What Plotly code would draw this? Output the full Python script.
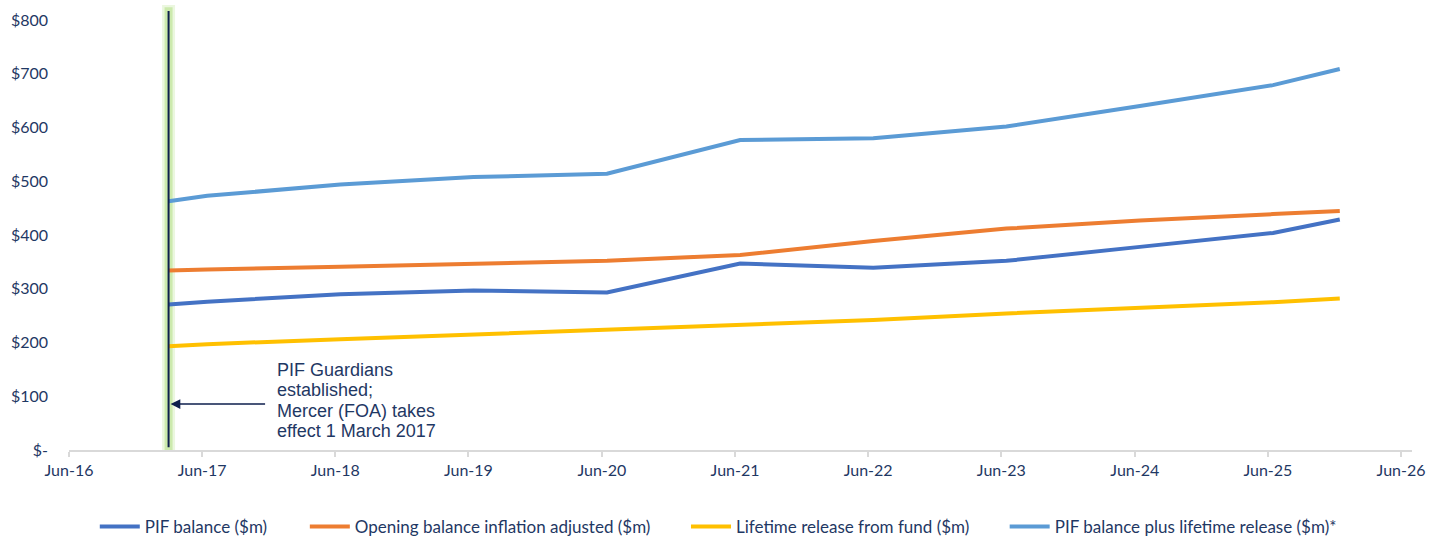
import plotly.graph_objects as go

# ---- data ----
dates = ['2017-03-01', '2017-06-15', '2018-06-15', '2019-06-15', '2020-06-15',
         '2021-06-15', '2022-06-15', '2023-06-15', '2024-06-15', '2025-06-15',
         '2025-12-15']
pif_balance = [271, 276, 290, 297, 293, 347, 339, 352, 378, 404, 429]
opening_inflation_adj = [334, 336, 341, 347, 352, 363, 389, 412, 427, 439, 445]
lifetime_release = [193, 197, 206, 215, 223, 233, 242, 254, 264, 275, 282]
pif_plus_release = [463, 473, 494, 508, 514, 577, 580, 602, 640, 679, 709]

tick_dates = ['2016-06-01', '2017-06-01', '2018-06-01', '2019-06-01', '2020-06-01',
              '2021-06-01', '2022-06-01', '2023-06-01', '2024-06-01', '2025-06-01',
              '2026-06-01']
tick_labels = ['Jun-16', 'Jun-17', 'Jun-18', 'Jun-19', 'Jun-20', 'Jun-21',
               'Jun-22', 'Jun-23', 'Jun-24', 'Jun-25', 'Jun-26']
y_ticks = [0, 100, 200, 300, 400, 500, 600, 700, 800]
y_labels = ['$-', '$100', '$200', '$300', '$400', '$500', '$600', '$700', '$800']

event_date = '2017-03-01'
event_lines = ['PIF Guardians', 'established;', 'Mercer (FOA) takes', 'effect 1 March 2017']
event_line_y = [148.0, 110.8, 72.5, 34.5]

series = [
    ('PIF balance ($m)', pif_balance, '#4472C4', 'legend'),
    ('Opening balance inflation adjusted ($m)', opening_inflation_adj, '#ED7D31', 'legend2'),
    ('Lifetime release from fund ($m)', lifetime_release, '#FFC000', 'legend3'),
    ('PIF balance plus lifetime release ($m)*', pif_plus_release, '#5B9BD5', 'legend4'),
]
legend_x = [0.0192, 0.1756, 0.4594, 0.6967]

NAVY = '#1F3864'
LINE_NAVY = '#0E1F4D'

fig = go.Figure()
for name, vals, color, lg in series:
    fig.add_trace(go.Scatter(x=dates, y=vals, mode='lines', name=name,
                             line=dict(color=color, width=4), legend=lg))

# event marker line with soft green glow
fig.add_shape(type='line', xref='x', yref='y', x0=event_date, x1=event_date,
              y0=-20, y1=828, line=dict(color='rgba(146,208,80,0.18)', width=13), layer='below')
fig.add_shape(type='line', xref='x', yref='y', x0=event_date, x1=event_date,
              y0=-20, y1=824, line=dict(color='rgba(146,208,80,0.35)', width=8), layer='below')
fig.add_shape(type='line', xref='x', yref='y', x0=event_date, x1=event_date,
              y0=5, y1=817, line=dict(color=LINE_NAVY, width=2))

# arrow
fig.add_annotation(x=event_date, y=85.6, xref='x', yref='y', text='',
                   showarrow=True, ax=98, ay=0, arrowhead=2, arrowsize=1.3,
                   arrowwidth=1.5, arrowcolor=LINE_NAVY, standoff=2)
# label lines
for line_text, ly in zip(event_lines, event_line_y):
    fig.add_annotation(x=event_date, y=ly, xref='x', yref='y', text=line_text,
                       showarrow=False, xanchor='left', yanchor='middle', align='left',
                       xshift=106.5,
                       font=dict(family='Liberation Sans, Arial, sans-serif', size=18, color=NAVY))

legend_common = dict(orientation='h', yanchor='middle', y=-0.1726, xanchor='left',
                     bgcolor='rgba(0,0,0,0)', borderwidth=0, itemwidth=40,
                     font=dict(family='Lato, sans-serif', size=17, color=NAVY))

fig.update_layout(
    width=1435, height=537,
    margin=dict(l=69, r=23, t=4, b=87, autoexpand=False),
    paper_bgcolor='white', plot_bgcolor='white',
    showlegend=True,
    legend=dict(x=legend_x[0], **legend_common),
    legend2=dict(x=legend_x[1], **legend_common),
    legend3=dict(x=legend_x[2], **legend_common),
    legend4=dict(x=legend_x[3], **legend_common),
    xaxis=dict(type='date', range=['2016-06-01', '2026-07-01'],
               tickvals=tick_dates, ticktext=tick_labels,
               showgrid=False, zeroline=False,
               showline=True, linecolor='#D9D9D9', linewidth=1.5,
               ticks='outside', ticklen=5, tickcolor='#D9D9D9', tickwidth=1.5,
               tickfont=dict(family='Lato', size=16, color=NAVY)),
    yaxis=dict(range=[0, 830], tickvals=y_ticks, ticktext=y_labels,
               showgrid=False, zeroline=False, showline=False, ticks='',
               ticklabelstandoff=20,
               tickfont=dict(family='Lato', size=16, color=NAVY)),
)

fig.write_html('out.html')
